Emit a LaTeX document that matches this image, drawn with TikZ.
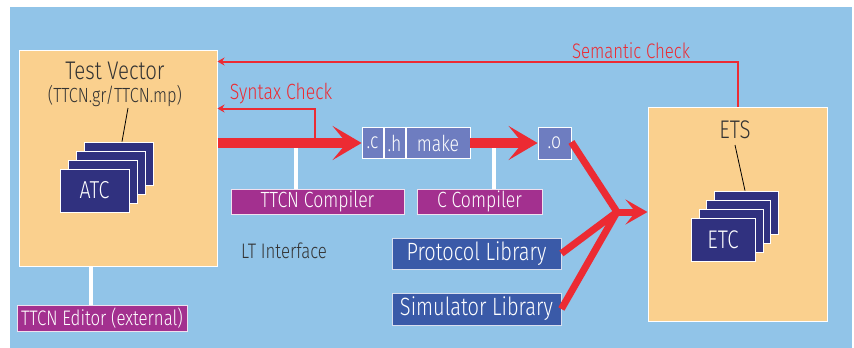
\documentclass[tikz,border=0pt]{standalone}
\usepackage{fontspec}
\setmainfont[FakeStretch=0.8, UprightFont={* Light}]{Fira Sans}
\usetikzlibrary{arrows.meta,calc}
\definecolor{bgblue}{HTML}{91C4E8}
\definecolor{peach}{HTML}{FAD08E}
\definecolor{ared}{HTML}{EC2B33}
\definecolor{purp}{HTML}{A3308F}
\definecolor{navy}{HTML}{30317F}
\definecolor{slate}{HTML}{6E7DC0}
\definecolor{libblue}{HTML}{3A5AA8}
\definecolor{txt}{HTML}{333333}
\tikzset{
  fs/.style={font=\fontsize{#1}{#1}\selectfont},
  panel/.style={draw=white, line width=1pt, fill=peach, inner sep=0pt},
  card/.style={draw=white, line width=0.8pt, fill=navy, inner sep=0pt, minimum height=43pt},
  fbox/.style={draw=white, line width=0.8pt, fill=slate, text=white, inner sep=0pt, minimum height=31pt, fs=22},
  tool/.style={draw=white!85!purp, line width=0.8pt, fill=purp, text=white, inner sep=0pt, minimum height=25pt, fs=22},
  lib/.style={draw=white!80!libblue, line width=0.8pt, fill=libblue, text=white, inner sep=0pt, fs=25},
  label/.style={text=txt, inner sep=0pt},
  rlabel/.style={text=ared, inner sep=0pt, fs=22},
  thin/.style={draw=ared, line width=2pt, -{Stealth[length=7pt,width=8pt]}},
  thick/.style={draw=ared, line width=10pt, -{Stealth[length=29pt,width=34pt,inset=14pt]}},
  feed/.style={draw=ared, line width=7pt},
  wire/.style={draw=white, line width=4pt},
  tick/.style={draw=black, line width=0.8pt},
}
\begin{document}
\begin{tikzpicture}[x=1pt,y=-1pt]
\useasboundingbox (0,0) rectangle (854,348);
\fill[bgblue] (10,7) rectangle (852,348);

% panels
\node[panel, minimum width=198pt, minimum height=216pt] (TV) at (118,158) {};
\node[panel, minimum width=179pt, minimum height=214pt] (ETS) at (737.5,214) {};

\node[label, fs=25.5] (tvt) at (115,71) {Test Vector};
\node[label, fs=20.5] (tvs) at (115,96) {(TTCN.gr/TTCN.mp)};
\node[label, fs=25.5] (etst) at (735,130) {ETS};

% ATC stack
\node[card, minimum width=69pt] (a4) at (118.5,163.5) {};
\node[card, minimum width=69pt] (a3) at (110.5,172.5) {};
\node[card, minimum width=69pt] (a2) at (102.5,181.5) {};
\node[card, minimum width=69pt, text=white, fs=24.5] (a1) at (94.5,190.5) {ATC};

% ETC stack
\node[card, minimum width=64pt] (e4) at (746,212.5) {};
\node[card, minimum width=64pt] (e3) at (738.5,221.5) {};
\node[card, minimum width=64pt] (e2) at (731,230.5) {};
\node[card, minimum width=64pt, text=white, fs=25.5] (e1) at (723,239.5) {ETC};

\draw[tick] (128,108) -- (a4.north -| 122,0);
\draw[tick] (735,145) -- (e4.north -| 745,0);

% file boxes
\node[fbox, minimum width=21pt] (cf) at (372.5,143) {.c};
\node[fbox, minimum width=21pt] (hf) at (394.5,143) {.h};
\node[fbox, minimum width=64pt] (mk) at (438,143) {make};
\node[fbox, minimum width=33pt, minimum height=32pt] (of) at (554.5,143) {.o};

% tools
\node[tool, minimum width=173pt] (tc) at (317.5,201.5) {TTCN Compiler};
\node[tool, minimum width=125pt] (cc) at (479.5,201.5) {C Compiler};
\node[tool, minimum width=170pt, minimum height=26pt, fs=21] (ed) at (102,318) {TTCN Editor (external)};

% libraries
\node[lib, minimum width=169pt, minimum height=31pt] (pl) at (476.5,253.5) {Protocol Library};
\node[lib, minimum width=169pt, minimum height=32pt] (sl) at (476.5,309) {Simulator Library};

\node[label, fs=21, anchor=west] (lt) at (241,251) {LT Interface};

% white wires
\coordinate (w1) at (296,143);
\coordinate (w2) at (494,143);
\coordinate (w3) at (91,266);
\draw[wire] (w1) -- (w1 |- tc.north);
\draw[wire] (w2) -- (w2 |- cc.north);
\draw[wire] (w3 |- TV.south) -- (w3 |- ed.north);

% thick arrows
\draw[thick] (TV.east |- cf.west) -- (cf.west);
\draw[thick] (mk.east) -- (of.west);

% feeds to ETS
\coordinate (J) at (617,212);
\draw[feed] ($(of.east)+(0,-1)$) -- (J);
\draw[feed] (pl.east) -- (J);
\draw[feed] (sl.east) -- (J);
\draw[feed, -{Stealth[length=22pt,width=25pt,inset=10pt]}] (J) -- (ETS.west |- J);

% checks
\coordinate (sx) at (315,143);
\draw[thin] (sx) |- ($(TV.north east)+(0,59)$);
\draw[thin] (ETS.north) |- ($(TV.north east)+(0,12)$);
\node[rlabel] (syn) at (281,94) {Syntax Check};
\node[rlabel, fs=21] (sem) at (631,51) {Semantic Check};
\end{tikzpicture}
\end{document}
